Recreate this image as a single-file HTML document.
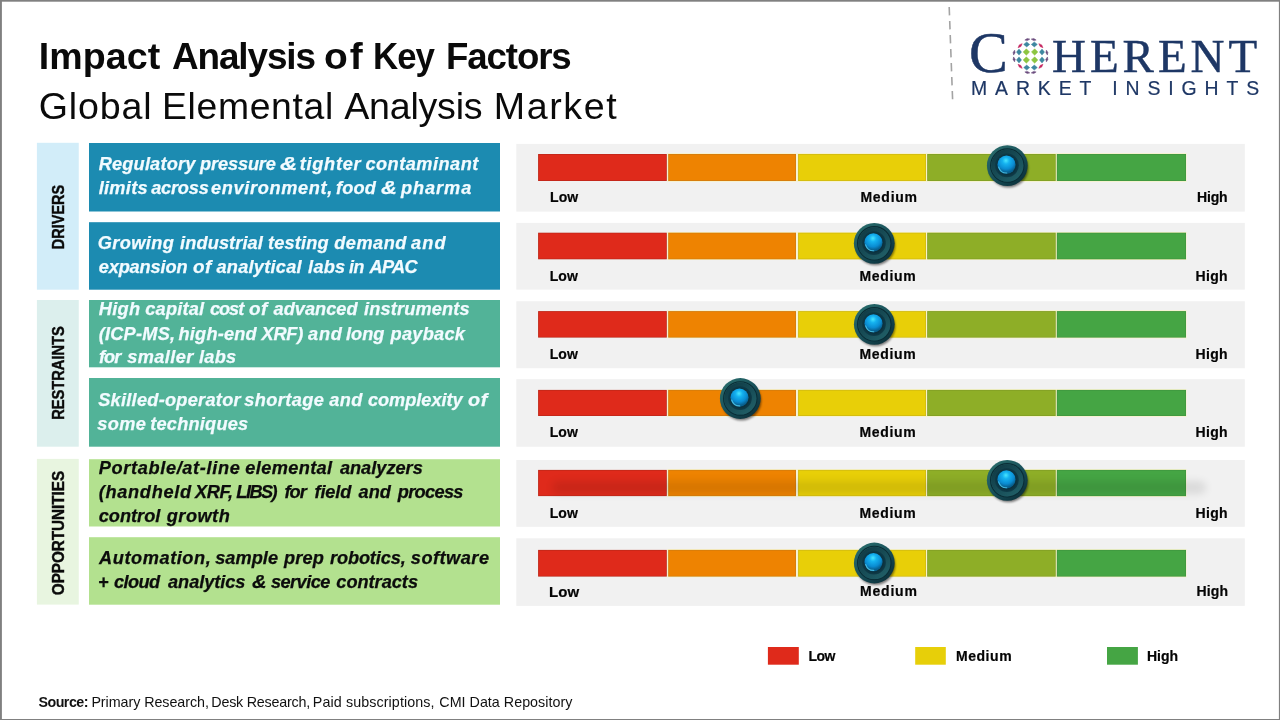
<!DOCTYPE html>
<html lang="en">
<head>
<meta charset="utf-8">
<title>Impact Analysis of Key Factors - Global Elemental Analysis Market</title>
<style>
html,body{margin:0;padding:0;}
body{width:1280px;height:720px;position:relative;overflow:hidden;background:#fff;font-family:"Liberation Sans",sans-serif;}
svg.bg{position:absolute;left:0;top:0;}
.t{position:absolute;white-space:nowrap;line-height:1;transform-origin:0 50%;}
.c{position:absolute;white-space:nowrap;font-weight:bold;color:#0a0a0a;line-height:1;-webkit-text-stroke:0.45px #0a0a0a;}
</style>
</head>
<body>
<svg class="bg" width="1280" height="720" viewBox="0 0 1280 720">
<defs>
<linearGradient id="kg1" x1="0.15" y1="0.1" x2="0.85" y2="0.9"><stop offset="0" stop-color="#286a6a"/><stop offset="0.5" stop-color="#18505a"/><stop offset="1" stop-color="#0c323c"/></linearGradient>
<linearGradient id="kg2" x1="0.15" y1="0.1" x2="0.85" y2="0.9"><stop offset="0" stop-color="#113c46"/><stop offset="0.55" stop-color="#184e58"/><stop offset="1" stop-color="#205e66"/></linearGradient>
<radialGradient id="kg3" cx="0.5" cy="0.5" r="0.5"><stop offset="0.6" stop-color="#082a36"/><stop offset="1" stop-color="#0f3c49"/></radialGradient>
<radialGradient id="kg4" cx="0.47" cy="0.3" r="0.62" fx="0.47" fy="0.27"><stop offset="0" stop-color="#48e6ff"/><stop offset="0.3" stop-color="#15b2f0"/><stop offset="0.72" stop-color="#0a8cd2"/><stop offset="1" stop-color="#08608f"/></radialGradient>
<filter id="ksh" x="-30%" y="-30%" width="170%" height="170%"><feGaussianBlur stdDeviation="1.3"/></filter>
<filter id="bsh" x="-5%" y="-150%" width="110%" height="400%"><feGaussianBlur stdDeviation="4"/></filter>
</defs>
<!-- category columns -->
<rect x="36.90" y="142.80" width="41.85" height="146.90" fill="#d2edf9"/>
<rect x="36.90" y="300.00" width="41.85" height="146.70" fill="#dcefed"/>
<rect x="36.90" y="458.90" width="41.85" height="145.70" fill="#e8f5e0"/>
<!-- factor boxes -->
<rect x="89.00" y="143.00" width="411.00" height="68.50" fill="#1c8bb1"/>
<rect x="89.00" y="222.20" width="411.00" height="67.50" fill="#1c8bb1"/>
<rect x="89.00" y="300.00" width="411.00" height="67.30" fill="#52b398"/>
<rect x="89.00" y="378.00" width="411.00" height="68.70" fill="#52b398"/>
<rect x="89.00" y="459.20" width="411.00" height="67.30" fill="#b3e18f"/>
<rect x="89.00" y="537.20" width="411.00" height="67.50" fill="#b3e18f"/>
<!-- gauge panels -->
<rect x="516.30" y="143.90" width="728.50" height="67.70" fill="#f1f1f1"/>
<rect x="538.10" y="154.00" width="128.70" height="27.00" fill="#bb281a"/>
<rect x="538.80" y="154.70" width="127.30" height="25.60" fill="#df2a1b"/>
<rect x="667.30" y="153.30" width="129.20" height="28.40" fill="#f8f3c4"/>
<rect x="668.20" y="154.00" width="127.80" height="27.00" fill="#cf7c10"/>
<rect x="668.90" y="154.70" width="126.40" height="25.60" fill="#ee8301"/>
<rect x="797.20" y="153.30" width="129.30" height="28.40" fill="#f8f3c4"/>
<rect x="798.10" y="154.00" width="127.90" height="27.00" fill="#cdb714"/>
<rect x="798.80" y="154.70" width="126.50" height="25.60" fill="#e8cf08"/>
<rect x="926.30" y="153.30" width="130.00" height="28.40" fill="#f8f3c4"/>
<rect x="927.20" y="154.00" width="128.60" height="27.00" fill="#7f9c25"/>
<rect x="927.90" y="154.70" width="127.20" height="25.60" fill="#8eae27"/>
<rect x="1055.90" y="153.30" width="130.60" height="28.40" fill="#f8f3c4"/>
<rect x="1056.80" y="154.00" width="129.20" height="27.00" fill="#3f953f"/>
<rect x="1057.50" y="154.70" width="127.80" height="25.60" fill="#45a544"/>
<rect x="516.30" y="222.90" width="728.50" height="66.70" fill="#f1f1f1"/>
<rect x="538.10" y="232.70" width="128.70" height="26.60" fill="#bb281a"/>
<rect x="538.80" y="233.40" width="127.30" height="25.20" fill="#df2a1b"/>
<rect x="667.30" y="232.00" width="129.20" height="28.00" fill="#f8f3c4"/>
<rect x="668.20" y="232.70" width="127.80" height="26.60" fill="#cf7c10"/>
<rect x="668.90" y="233.40" width="126.40" height="25.20" fill="#ee8301"/>
<rect x="797.20" y="232.00" width="129.30" height="28.00" fill="#f8f3c4"/>
<rect x="798.10" y="232.70" width="127.90" height="26.60" fill="#cdb714"/>
<rect x="798.80" y="233.40" width="126.50" height="25.20" fill="#e8cf08"/>
<rect x="926.30" y="232.00" width="130.00" height="28.00" fill="#f8f3c4"/>
<rect x="927.20" y="232.70" width="128.60" height="26.60" fill="#7f9c25"/>
<rect x="927.90" y="233.40" width="127.20" height="25.20" fill="#8eae27"/>
<rect x="1055.90" y="232.00" width="130.60" height="28.00" fill="#f8f3c4"/>
<rect x="1056.80" y="232.70" width="129.20" height="26.60" fill="#3f953f"/>
<rect x="1057.50" y="233.40" width="127.80" height="25.20" fill="#45a544"/>
<rect x="516.30" y="301.25" width="728.50" height="67.00" fill="#f1f1f1"/>
<rect x="538.10" y="311.10" width="128.70" height="26.50" fill="#bb281a"/>
<rect x="538.80" y="311.80" width="127.30" height="25.10" fill="#df2a1b"/>
<rect x="667.30" y="310.40" width="129.20" height="27.90" fill="#f8f3c4"/>
<rect x="668.20" y="311.10" width="127.80" height="26.50" fill="#cf7c10"/>
<rect x="668.90" y="311.80" width="126.40" height="25.10" fill="#ee8301"/>
<rect x="797.20" y="310.40" width="129.30" height="27.90" fill="#f8f3c4"/>
<rect x="798.10" y="311.10" width="127.90" height="26.50" fill="#cdb714"/>
<rect x="798.80" y="311.80" width="126.50" height="25.10" fill="#e8cf08"/>
<rect x="926.30" y="310.40" width="130.00" height="27.90" fill="#f8f3c4"/>
<rect x="927.20" y="311.10" width="128.60" height="26.50" fill="#7f9c25"/>
<rect x="927.90" y="311.80" width="127.20" height="25.10" fill="#8eae27"/>
<rect x="1055.90" y="310.40" width="130.60" height="27.90" fill="#f8f3c4"/>
<rect x="1056.80" y="311.10" width="129.20" height="26.50" fill="#3f953f"/>
<rect x="1057.50" y="311.80" width="127.80" height="25.10" fill="#45a544"/>
<rect x="516.30" y="379.20" width="728.50" height="67.55" fill="#f1f1f1"/>
<rect x="538.10" y="389.90" width="128.70" height="26.10" fill="#bb281a"/>
<rect x="538.80" y="390.60" width="127.30" height="24.70" fill="#df2a1b"/>
<rect x="667.30" y="389.20" width="129.20" height="27.50" fill="#f8f3c4"/>
<rect x="668.20" y="389.90" width="127.80" height="26.10" fill="#cf7c10"/>
<rect x="668.90" y="390.60" width="126.40" height="24.70" fill="#ee8301"/>
<rect x="797.20" y="389.20" width="129.30" height="27.50" fill="#f8f3c4"/>
<rect x="798.10" y="389.90" width="127.90" height="26.10" fill="#cdb714"/>
<rect x="798.80" y="390.60" width="126.50" height="24.70" fill="#e8cf08"/>
<rect x="926.30" y="389.20" width="130.00" height="27.50" fill="#f8f3c4"/>
<rect x="927.20" y="389.90" width="128.60" height="26.10" fill="#7f9c25"/>
<rect x="927.90" y="390.60" width="127.20" height="24.70" fill="#8eae27"/>
<rect x="1055.90" y="389.20" width="130.60" height="27.50" fill="#f8f3c4"/>
<rect x="1056.80" y="389.90" width="129.20" height="26.10" fill="#3f953f"/>
<rect x="1057.50" y="390.60" width="127.80" height="24.70" fill="#45a544"/>
<rect x="516.30" y="460.00" width="728.50" height="66.80" fill="#f1f1f1"/>
<rect x="538.10" y="469.90" width="128.70" height="26.20" fill="#bb281a"/>
<rect x="538.80" y="470.60" width="127.30" height="24.80" fill="#df2a1b"/>
<rect x="667.30" y="469.20" width="129.20" height="27.60" fill="#f8f3c4"/>
<rect x="668.20" y="469.90" width="127.80" height="26.20" fill="#cf7c10"/>
<rect x="668.90" y="470.60" width="126.40" height="24.80" fill="#ee8301"/>
<rect x="797.20" y="469.20" width="129.30" height="27.60" fill="#f8f3c4"/>
<rect x="798.10" y="469.90" width="127.90" height="26.20" fill="#cdb714"/>
<rect x="798.80" y="470.60" width="126.50" height="24.80" fill="#e8cf08"/>
<rect x="926.30" y="469.20" width="130.00" height="27.60" fill="#f8f3c4"/>
<rect x="927.20" y="469.90" width="128.60" height="26.20" fill="#7f9c25"/>
<rect x="927.90" y="470.60" width="127.20" height="24.80" fill="#8eae27"/>
<rect x="1055.90" y="469.20" width="130.60" height="27.60" fill="#f8f3c4"/>
<rect x="1056.80" y="469.90" width="129.20" height="26.20" fill="#3f953f"/>
<rect x="1057.50" y="470.60" width="127.80" height="24.80" fill="#45a544"/>
<rect x="552" y="481.5" width="654" height="12" rx="6" fill="#000" opacity="0.10" filter="url(#bsh)"/>
<rect x="516.30" y="538.30" width="728.50" height="67.60" fill="#f1f1f1"/>
<rect x="538.10" y="549.90" width="128.70" height="26.70" fill="#bb281a"/>
<rect x="538.80" y="550.60" width="127.30" height="25.30" fill="#df2a1b"/>
<rect x="667.30" y="549.20" width="129.20" height="28.10" fill="#f8f3c4"/>
<rect x="668.20" y="549.90" width="127.80" height="26.70" fill="#cf7c10"/>
<rect x="668.90" y="550.60" width="126.40" height="25.30" fill="#ee8301"/>
<rect x="797.20" y="549.20" width="129.30" height="28.10" fill="#f8f3c4"/>
<rect x="798.10" y="549.90" width="127.90" height="26.70" fill="#cdb714"/>
<rect x="798.80" y="550.60" width="126.50" height="25.30" fill="#e8cf08"/>
<rect x="926.30" y="549.20" width="130.00" height="28.10" fill="#f8f3c4"/>
<rect x="927.20" y="549.90" width="128.60" height="26.70" fill="#7f9c25"/>
<rect x="927.90" y="550.60" width="127.20" height="25.30" fill="#8eae27"/>
<rect x="1055.90" y="549.20" width="130.60" height="28.10" fill="#f8f3c4"/>
<rect x="1056.80" y="549.90" width="129.20" height="26.70" fill="#3f953f"/>
<rect x="1057.50" y="550.60" width="127.80" height="25.30" fill="#45a544"/>
<!-- knobs -->
<g transform="translate(1007.30 165.60)">
<circle cx="1.2" cy="2.2" r="19.8" fill="#000" opacity="0.5" filter="url(#ksh)"/>
<circle r="20.4" fill="url(#kg1)"/>
<circle r="16.7" fill="none" stroke="#0a2d36" stroke-width="1.1"/>
<circle r="16.1" fill="url(#kg2)"/>
<circle cx="-0.4" cy="-0.4" r="12" fill="url(#kg3)"/>
<circle cx="-0.8" cy="-0.9" r="9.1" fill="url(#kg4)"/>
<path d="M -8.6 1.5 A 8.3 8.3 0 0 0 -0.5 7.4" fill="none" stroke="#58d4f6" stroke-width="1.1" stroke-linecap="round" opacity="0.75"/>
</g>
<g transform="translate(874.25 243.30)">
<circle cx="1.2" cy="2.2" r="19.8" fill="#000" opacity="0.5" filter="url(#ksh)"/>
<circle r="20.4" fill="url(#kg1)"/>
<circle r="16.7" fill="none" stroke="#0a2d36" stroke-width="1.1"/>
<circle r="16.1" fill="url(#kg2)"/>
<circle cx="-0.4" cy="-0.4" r="12" fill="url(#kg3)"/>
<circle cx="-0.8" cy="-0.9" r="9.1" fill="url(#kg4)"/>
<path d="M -8.6 1.5 A 8.3 8.3 0 0 0 -0.5 7.4" fill="none" stroke="#58d4f6" stroke-width="1.1" stroke-linecap="round" opacity="0.75"/>
</g>
<g transform="translate(874.30 324.30)">
<circle cx="1.2" cy="2.2" r="19.8" fill="#000" opacity="0.5" filter="url(#ksh)"/>
<circle r="20.4" fill="url(#kg1)"/>
<circle r="16.7" fill="none" stroke="#0a2d36" stroke-width="1.1"/>
<circle r="16.1" fill="url(#kg2)"/>
<circle cx="-0.4" cy="-0.4" r="12" fill="url(#kg3)"/>
<circle cx="-0.8" cy="-0.9" r="9.1" fill="url(#kg4)"/>
<path d="M -8.6 1.5 A 8.3 8.3 0 0 0 -0.5 7.4" fill="none" stroke="#58d4f6" stroke-width="1.1" stroke-linecap="round" opacity="0.75"/>
</g>
<g transform="translate(740.30 398.50)">
<circle cx="1.2" cy="2.2" r="19.8" fill="#000" opacity="0.5" filter="url(#ksh)"/>
<circle r="20.4" fill="url(#kg1)"/>
<circle r="16.7" fill="none" stroke="#0a2d36" stroke-width="1.1"/>
<circle r="16.1" fill="url(#kg2)"/>
<circle cx="-0.4" cy="-0.4" r="12" fill="url(#kg3)"/>
<circle cx="-0.8" cy="-0.9" r="9.1" fill="url(#kg4)"/>
<path d="M -8.6 1.5 A 8.3 8.3 0 0 0 -0.5 7.4" fill="none" stroke="#58d4f6" stroke-width="1.1" stroke-linecap="round" opacity="0.75"/>
</g>
<g transform="translate(1007.25 480.30)">
<circle cx="1.2" cy="2.2" r="19.8" fill="#000" opacity="0.5" filter="url(#ksh)"/>
<circle r="20.4" fill="url(#kg1)"/>
<circle r="16.7" fill="none" stroke="#0a2d36" stroke-width="1.1"/>
<circle r="16.1" fill="url(#kg2)"/>
<circle cx="-0.4" cy="-0.4" r="12" fill="url(#kg3)"/>
<circle cx="-0.8" cy="-0.9" r="9.1" fill="url(#kg4)"/>
<path d="M -8.6 1.5 A 8.3 8.3 0 0 0 -0.5 7.4" fill="none" stroke="#58d4f6" stroke-width="1.1" stroke-linecap="round" opacity="0.75"/>
</g>
<g transform="translate(874.30 563.00)">
<circle cx="1.2" cy="2.2" r="19.8" fill="#000" opacity="0.5" filter="url(#ksh)"/>
<circle r="20.4" fill="url(#kg1)"/>
<circle r="16.7" fill="none" stroke="#0a2d36" stroke-width="1.1"/>
<circle r="16.1" fill="url(#kg2)"/>
<circle cx="-0.4" cy="-0.4" r="12" fill="url(#kg3)"/>
<circle cx="-0.8" cy="-0.9" r="9.1" fill="url(#kg4)"/>
<path d="M -8.6 1.5 A 8.3 8.3 0 0 0 -0.5 7.4" fill="none" stroke="#58d4f6" stroke-width="1.1" stroke-linecap="round" opacity="0.75"/>
</g>
<!-- legend -->
<rect x="767.90" y="647.00" width="30.90" height="17.70" fill="#df2a1b"/>
<rect x="915.20" y="647.00" width="30.60" height="17.70" fill="#e7cf09"/>
<rect x="1107.00" y="647.00" width="30.90" height="17.70" fill="#45a544"/>
<!-- frame -->
<rect x="0.00" y="0.00" width="1280.00" height="1.70" fill="#808080"/>
<rect x="0.00" y="0.00" width="1.90" height="720.00" fill="#808080"/>
<rect x="1278.90" y="0.00" width="1.10" height="720.00" fill="#808080"/>
<rect x="0.00" y="719.00" width="1280.00" height="1.00" fill="#808080"/>
<!-- logo: divider + globe -->
<line x1="949.2" y1="7" x2="952.6" y2="99.5" stroke="#a3a3a3" stroke-width="1.6" stroke-dasharray="8.4 5.6"/>
<polygon points="0.00,-3.20 3.20,0.00 0.00,3.20 -3.20,0.00" fill="#8cc541" stroke="#8cc541" stroke-width="0.5" stroke-linejoin="round" transform="translate(1026.35 52.00) rotate(0.0)"/>
<polygon points="0.00,-3.20 3.20,0.00 0.00,3.20 -3.20,0.00" fill="#8cc541" stroke="#8cc541" stroke-width="0.5" stroke-linejoin="round" transform="translate(1026.35 60.00) rotate(0.0)"/>
<polygon points="0.00,-3.20 3.20,0.00 0.00,3.20 -3.20,0.00" fill="#8cc541" stroke="#8cc541" stroke-width="0.5" stroke-linejoin="round" transform="translate(1034.65 52.00) rotate(0.0)"/>
<polygon points="0.00,-3.20 3.20,0.00 0.00,3.20 -3.20,0.00" fill="#8cc541" stroke="#8cc541" stroke-width="0.5" stroke-linejoin="round" transform="translate(1034.65 60.00) rotate(0.0)"/>
<polygon points="0.00,-2.50 3.00,0.00 0.00,2.50 -3.00,0.00" fill="#3e87a0" stroke="#3e87a0" stroke-width="0.5" stroke-linejoin="round" transform="translate(1026.70 44.40) rotate(0.0)"/>
<polygon points="0.00,-2.50 3.00,0.00 0.00,2.50 -3.00,0.00" fill="#3e87a0" stroke="#3e87a0" stroke-width="0.5" stroke-linejoin="round" transform="translate(1026.70 67.60) rotate(0.0)"/>
<polygon points="0.00,-2.50 3.00,0.00 0.00,2.50 -3.00,0.00" fill="#3e87a0" stroke="#3e87a0" stroke-width="0.5" stroke-linejoin="round" transform="translate(1034.30 44.40) rotate(0.0)"/>
<polygon points="0.00,-2.50 3.00,0.00 0.00,2.50 -3.00,0.00" fill="#3e87a0" stroke="#3e87a0" stroke-width="0.5" stroke-linejoin="round" transform="translate(1034.30 67.60) rotate(0.0)"/>
<polygon points="0.00,-3.00 2.50,0.00 0.00,3.00 -2.50,0.00" fill="#3e87a0" stroke="#3e87a0" stroke-width="0.5" stroke-linejoin="round" transform="translate(1019.00 52.10) rotate(0.0)"/>
<polygon points="0.00,-3.00 2.50,0.00 0.00,3.00 -2.50,0.00" fill="#3e87a0" stroke="#3e87a0" stroke-width="0.5" stroke-linejoin="round" transform="translate(1019.00 59.90) rotate(0.0)"/>
<polygon points="0.00,-3.00 2.50,0.00 0.00,3.00 -2.50,0.00" fill="#3e87a0" stroke="#3e87a0" stroke-width="0.5" stroke-linejoin="round" transform="translate(1042.00 52.10) rotate(0.0)"/>
<polygon points="0.00,-3.00 2.50,0.00 0.00,3.00 -2.50,0.00" fill="#3e87a0" stroke="#3e87a0" stroke-width="0.5" stroke-linejoin="round" transform="translate(1042.00 59.90) rotate(0.0)"/>
<polygon points="0.00,-1.15 2.90,0.00 0.00,1.15 -2.90,0.00" fill="#c5265f" stroke="#c5265f" stroke-width="0.5" stroke-linejoin="round" transform="translate(1020.10 45.70) rotate(-45.0)"/>
<polygon points="0.00,-1.15 2.90,0.00 0.00,1.15 -2.90,0.00" fill="#c5265f" stroke="#c5265f" stroke-width="0.5" stroke-linejoin="round" transform="translate(1020.10 66.30) rotate(225.0)"/>
<polygon points="0.00,-1.15 2.90,0.00 0.00,1.15 -2.90,0.00" fill="#c5265f" stroke="#c5265f" stroke-width="0.5" stroke-linejoin="round" transform="translate(1040.90 45.70) rotate(45.0)"/>
<polygon points="0.00,-1.15 2.90,0.00 0.00,1.15 -2.90,0.00" fill="#c5265f" stroke="#c5265f" stroke-width="0.5" stroke-linejoin="round" transform="translate(1040.90 66.30) rotate(135.0)"/>
<polygon points="0.00,-1.00 2.50,0.00 0.00,1.00 -2.50,0.00" fill="#6a4b7d" stroke="#6a4b7d" stroke-width="0.5" stroke-linejoin="round" transform="translate(1027.30 39.60) rotate(-11.0)"/>
<polygon points="0.00,-1.00 2.50,0.00 0.00,1.00 -2.50,0.00" fill="#6a4b7d" stroke="#6a4b7d" stroke-width="0.5" stroke-linejoin="round" transform="translate(1014.10 52.60) rotate(-78.3)"/>
<polygon points="0.00,-1.00 2.50,0.00 0.00,1.00 -2.50,0.00" fill="#6a4b7d" stroke="#6a4b7d" stroke-width="0.5" stroke-linejoin="round" transform="translate(1027.30 72.40) rotate(191.0)"/>
<polygon points="0.00,-1.00 2.50,0.00 0.00,1.00 -2.50,0.00" fill="#6a4b7d" stroke="#6a4b7d" stroke-width="0.5" stroke-linejoin="round" transform="translate(1014.10 59.40) rotate(258.3)"/>
<polygon points="0.00,-1.00 2.50,0.00 0.00,1.00 -2.50,0.00" fill="#6a4b7d" stroke="#6a4b7d" stroke-width="0.5" stroke-linejoin="round" transform="translate(1033.70 39.60) rotate(11.0)"/>
<polygon points="0.00,-1.00 2.50,0.00 0.00,1.00 -2.50,0.00" fill="#6a4b7d" stroke="#6a4b7d" stroke-width="0.5" stroke-linejoin="round" transform="translate(1046.90 52.60) rotate(78.3)"/>
<polygon points="0.00,-1.00 2.50,0.00 0.00,1.00 -2.50,0.00" fill="#6a4b7d" stroke="#6a4b7d" stroke-width="0.5" stroke-linejoin="round" transform="translate(1033.70 72.40) rotate(169.0)"/>
<polygon points="0.00,-1.00 2.50,0.00 0.00,1.00 -2.50,0.00" fill="#6a4b7d" stroke="#6a4b7d" stroke-width="0.5" stroke-linejoin="round" transform="translate(1046.90 59.40) rotate(101.7)"/>

</svg>

<span class="t" style="left:38.75px;top:37.77px;font-size:37.60px;letter-spacing:0.099px;font-weight:bold;color:#0a0a0a;">Impact</span>
<span class="t" style="left:171.50px;top:37.77px;font-size:37.60px;letter-spacing:-1.128px;transform:scaleX(0.9813);font-weight:bold;color:#0a0a0a;">Analysis</span>
<span class="t" style="left:324.20px;top:37.77px;font-size:37.60px;letter-spacing:1.942px;transform:scaleX(1.0337);font-weight:bold;color:#0a0a0a;">of</span>
<span class="t" style="left:373.00px;top:37.77px;font-size:37.60px;letter-spacing:-1.128px;transform:scaleX(0.9282);font-weight:bold;color:#0a0a0a;">Key</span>
<span class="t" style="left:445.90px;top:37.77px;font-size:37.60px;letter-spacing:-1.128px;transform:scaleX(0.9744);font-weight:bold;color:#0a0a0a;">Factors</span>
<span class="t" style="left:38.75px;top:88.17px;font-size:37.60px;letter-spacing:0.855px;color:#0a0a0a;">Global</span>
<span class="t" style="left:161.60px;top:88.17px;font-size:37.60px;letter-spacing:0.664px;transform:scaleX(0.9934);color:#0a0a0a;">Elemental</span>
<span class="t" style="left:344.20px;top:88.17px;font-size:37.60px;letter-spacing:-0.219px;color:#0a0a0a;">Analysis</span>
<span class="t" style="left:493.80px;top:88.17px;font-size:37.60px;letter-spacing:1.602px;color:#0a0a0a;">Market</span>
<span class="t" style="left:98.70px;top:155.19px;font-size:18.20px;letter-spacing:0.180px;font-weight:bold;font-style:italic;color:#f2fbff;-webkit-text-stroke:0.25px #f2fbff;">Regulatory</span>
<span class="t" style="left:200.00px;top:155.19px;font-size:18.20px;letter-spacing:-0.129px;font-weight:bold;font-style:italic;color:#f2fbff;-webkit-text-stroke:0.25px #f2fbff;">pressure</span>
<span class="t" style="left:280.40px;top:155.19px;font-size:18.20px;letter-spacing:0.000px;transform:scaleX(1.3127);font-weight:bold;font-style:italic;color:#f2fbff;-webkit-text-stroke:0.25px #f2fbff;">&amp;</span>
<span class="t" style="left:299.80px;top:155.19px;font-size:18.20px;letter-spacing:0.690px;font-weight:bold;font-style:italic;color:#f2fbff;-webkit-text-stroke:0.25px #f2fbff;">tighter</span>
<span class="t" style="left:365.40px;top:155.19px;font-size:18.20px;letter-spacing:0.486px;font-weight:bold;font-style:italic;color:#f2fbff;-webkit-text-stroke:0.25px #f2fbff;">contaminant</span>
<span class="t" style="left:98.70px;top:179.39px;font-size:18.20px;letter-spacing:0.288px;font-weight:bold;font-style:italic;color:#f2fbff;-webkit-text-stroke:0.25px #f2fbff;">limits</span>
<span class="t" style="left:151.20px;top:179.39px;font-size:18.20px;letter-spacing:-0.216px;font-weight:bold;font-style:italic;color:#f2fbff;-webkit-text-stroke:0.25px #f2fbff;">across</span>
<span class="t" style="left:211.10px;top:179.39px;font-size:18.20px;letter-spacing:0.638px;font-weight:bold;font-style:italic;color:#f2fbff;-webkit-text-stroke:0.25px #f2fbff;">environment,</span>
<span class="t" style="left:336.10px;top:179.39px;font-size:18.20px;letter-spacing:0.120px;font-weight:bold;font-style:italic;color:#f2fbff;-webkit-text-stroke:0.25px #f2fbff;">food</span>
<span class="t" style="left:380.60px;top:179.39px;font-size:18.20px;letter-spacing:0.000px;transform:scaleX(1.2093);font-weight:bold;font-style:italic;color:#f2fbff;-webkit-text-stroke:0.25px #f2fbff;">&amp;</span>
<span class="t" style="left:400.90px;top:179.39px;font-size:18.20px;letter-spacing:0.936px;font-weight:bold;font-style:italic;color:#f2fbff;-webkit-text-stroke:0.25px #f2fbff;">pharma</span>
<span class="t" style="left:97.70px;top:233.89px;font-size:18.20px;letter-spacing:0.420px;font-weight:bold;font-style:italic;color:#f2fbff;-webkit-text-stroke:0.25px #f2fbff;">Growing</span>
<span class="t" style="left:180.10px;top:233.89px;font-size:18.20px;letter-spacing:0.100px;font-weight:bold;font-style:italic;color:#f2fbff;-webkit-text-stroke:0.25px #f2fbff;">industrial</span>
<span class="t" style="left:268.00px;top:233.89px;font-size:18.20px;letter-spacing:0.150px;font-weight:bold;font-style:italic;color:#f2fbff;-webkit-text-stroke:0.25px #f2fbff;">testing</span>
<span class="t" style="left:334.20px;top:233.89px;font-size:18.20px;letter-spacing:0.504px;font-weight:bold;font-style:italic;color:#f2fbff;-webkit-text-stroke:0.25px #f2fbff;">demand</span>
<span class="t" style="left:410.90px;top:233.89px;font-size:18.20px;letter-spacing:1.170px;font-weight:bold;font-style:italic;color:#f2fbff;-webkit-text-stroke:0.25px #f2fbff;">and</span>
<span class="t" style="left:98.70px;top:258.49px;font-size:18.20px;letter-spacing:-0.135px;font-weight:bold;font-style:italic;color:#f2fbff;-webkit-text-stroke:0.25px #f2fbff;">expansion</span>
<span class="t" style="left:192.80px;top:258.49px;font-size:18.20px;letter-spacing:0.546px;transform:scaleX(1.0390);font-weight:bold;font-style:italic;color:#f2fbff;-webkit-text-stroke:0.25px #f2fbff;">of</span>
<span class="t" style="left:216.40px;top:258.49px;font-size:18.20px;letter-spacing:0.260px;font-weight:bold;font-style:italic;color:#f2fbff;-webkit-text-stroke:0.25px #f2fbff;">analytical</span>
<span class="t" style="left:308.10px;top:258.49px;font-size:18.20px;letter-spacing:0.240px;font-weight:bold;font-style:italic;color:#f2fbff;-webkit-text-stroke:0.25px #f2fbff;">labs</span>
<span class="t" style="left:349.40px;top:258.49px;font-size:18.20px;letter-spacing:-0.546px;transform:scaleX(0.9787);font-weight:bold;font-style:italic;color:#f2fbff;-webkit-text-stroke:0.25px #f2fbff;">in</span>
<span class="t" style="left:369.60px;top:258.49px;font-size:18.20px;letter-spacing:-0.720px;font-weight:bold;font-style:italic;color:#f2fbff;-webkit-text-stroke:0.25px #f2fbff;">APAC</span>
<span class="t" style="left:98.70px;top:299.89px;font-size:18.20px;letter-spacing:0.360px;font-weight:bold;font-style:italic;color:#f2fbff;-webkit-text-stroke:0.25px #f2fbff;">High</span>
<span class="t" style="left:145.30px;top:299.89px;font-size:18.20px;letter-spacing:0.180px;font-weight:bold;font-style:italic;color:#f2fbff;-webkit-text-stroke:0.25px #f2fbff;">capital</span>
<span class="t" style="left:209.90px;top:299.89px;font-size:18.20px;letter-spacing:-1.020px;font-weight:bold;font-style:italic;color:#f2fbff;-webkit-text-stroke:0.25px #f2fbff;">cost</span>
<span class="t" style="left:249.00px;top:299.89px;font-size:18.20px;letter-spacing:0.546px;transform:scaleX(1.0390);font-weight:bold;font-style:italic;color:#f2fbff;-webkit-text-stroke:0.25px #f2fbff;">of</span>
<span class="t" style="left:273.50px;top:299.89px;font-size:18.20px;letter-spacing:0.026px;font-weight:bold;font-style:italic;color:#f2fbff;-webkit-text-stroke:0.25px #f2fbff;">advanced</span>
<span class="t" style="left:364.10px;top:299.89px;font-size:18.20px;letter-spacing:0.144px;font-weight:bold;font-style:italic;color:#f2fbff;-webkit-text-stroke:0.25px #f2fbff;">instruments</span>
<span class="t" style="left:98.70px;top:324.59px;font-size:18.20px;letter-spacing:0.231px;font-weight:bold;font-style:italic;color:#f2fbff;-webkit-text-stroke:0.25px #f2fbff;">(ICP-MS,</span>
<span class="t" style="left:178.50px;top:324.59px;font-size:18.20px;letter-spacing:0.206px;font-weight:bold;font-style:italic;color:#f2fbff;-webkit-text-stroke:0.25px #f2fbff;">high-end</span>
<span class="t" style="left:261.50px;top:324.59px;font-size:18.20px;letter-spacing:-0.240px;font-weight:bold;font-style:italic;color:#f2fbff;-webkit-text-stroke:0.25px #f2fbff;">XRF)</span>
<span class="t" style="left:308.00px;top:324.59px;font-size:18.20px;letter-spacing:0.810px;font-weight:bold;font-style:italic;color:#f2fbff;-webkit-text-stroke:0.25px #f2fbff;">and</span>
<span class="t" style="left:346.00px;top:324.59px;font-size:18.20px;letter-spacing:0.000px;font-weight:bold;font-style:italic;color:#f2fbff;-webkit-text-stroke:0.25px #f2fbff;">long</span>
<span class="t" style="left:390.50px;top:324.59px;font-size:18.20px;letter-spacing:0.270px;font-weight:bold;font-style:italic;color:#f2fbff;-webkit-text-stroke:0.25px #f2fbff;">payback</span>
<span class="t" style="left:99.10px;top:347.99px;font-size:18.20px;letter-spacing:-1.035px;font-weight:bold;font-style:italic;color:#f2fbff;-webkit-text-stroke:0.25px #f2fbff;">for</span>
<span class="t" style="left:127.20px;top:347.99px;font-size:18.20px;letter-spacing:0.420px;font-weight:bold;font-style:italic;color:#f2fbff;-webkit-text-stroke:0.25px #f2fbff;">smaller</span>
<span class="t" style="left:199.00px;top:347.99px;font-size:18.20px;letter-spacing:0.240px;font-weight:bold;font-style:italic;color:#f2fbff;-webkit-text-stroke:0.25px #f2fbff;">labs</span>
<span class="t" style="left:98.20px;top:391.09px;font-size:18.20px;letter-spacing:0.264px;font-weight:bold;font-style:italic;color:#f2fbff;-webkit-text-stroke:0.25px #f2fbff;">Skilled-operator</span>
<span class="t" style="left:244.30px;top:391.09px;font-size:18.20px;letter-spacing:0.411px;font-weight:bold;font-style:italic;color:#f2fbff;-webkit-text-stroke:0.25px #f2fbff;">shortage</span>
<span class="t" style="left:329.20px;top:391.09px;font-size:18.20px;letter-spacing:0.450px;font-weight:bold;font-style:italic;color:#f2fbff;-webkit-text-stroke:0.25px #f2fbff;">and</span>
<span class="t" style="left:367.90px;top:391.09px;font-size:18.20px;letter-spacing:-0.020px;font-weight:bold;font-style:italic;color:#f2fbff;-webkit-text-stroke:0.25px #f2fbff;">complexity</span>
<span class="t" style="left:467.60px;top:391.09px;font-size:18.20px;letter-spacing:0.546px;transform:scaleX(1.0892);font-weight:bold;font-style:italic;color:#f2fbff;-webkit-text-stroke:0.25px #f2fbff;">of</span>
<span class="t" style="left:97.20px;top:414.79px;font-size:18.20px;letter-spacing:0.420px;font-weight:bold;font-style:italic;color:#f2fbff;-webkit-text-stroke:0.25px #f2fbff;">some</span>
<span class="t" style="left:150.20px;top:414.79px;font-size:18.20px;letter-spacing:0.220px;font-weight:bold;font-style:italic;color:#f2fbff;-webkit-text-stroke:0.25px #f2fbff;">techniques</span>
<span class="t" style="left:98.70px;top:459.19px;font-size:18.20px;letter-spacing:0.648px;font-weight:bold;font-style:italic;color:#0c0c0c;-webkit-text-stroke:0.25px #0c0c0c;">Portable/at-line</span>
<span class="t" style="left:245.30px;top:459.19px;font-size:18.20px;letter-spacing:0.360px;font-weight:bold;font-style:italic;color:#0c0c0c;-webkit-text-stroke:0.25px #0c0c0c;">elemental</span>
<span class="t" style="left:339.90px;top:459.19px;font-size:18.20px;letter-spacing:0.000px;font-weight:bold;font-style:italic;color:#0c0c0c;-webkit-text-stroke:0.25px #0c0c0c;">analyzers</span>
<span class="t" style="left:98.70px;top:483.19px;font-size:18.20px;letter-spacing:0.698px;font-weight:bold;font-style:italic;color:#0c0c0c;-webkit-text-stroke:0.25px #0c0c0c;">(handheld</span>
<span class="t" style="left:195.10px;top:483.19px;font-size:18.20px;letter-spacing:-0.480px;font-weight:bold;font-style:italic;color:#0c0c0c;-webkit-text-stroke:0.25px #0c0c0c;">XRF,</span>
<span class="t" style="left:236.30px;top:483.19px;font-size:18.20px;letter-spacing:-1.530px;font-weight:bold;font-style:italic;color:#0c0c0c;-webkit-text-stroke:0.25px #0c0c0c;">LIBS)</span>
<span class="t" style="left:284.40px;top:483.19px;font-size:18.20px;letter-spacing:-0.900px;font-weight:bold;font-style:italic;color:#0c0c0c;-webkit-text-stroke:0.25px #0c0c0c;">for</span>
<span class="t" style="left:314.60px;top:483.19px;font-size:18.20px;letter-spacing:-0.180px;font-weight:bold;font-style:italic;color:#0c0c0c;-webkit-text-stroke:0.25px #0c0c0c;">field</span>
<span class="t" style="left:358.60px;top:483.19px;font-size:18.20px;letter-spacing:0.000px;font-weight:bold;font-style:italic;color:#0c0c0c;-webkit-text-stroke:0.25px #0c0c0c;">and</span>
<span class="t" style="left:397.70px;top:483.19px;font-size:18.20px;letter-spacing:-0.660px;font-weight:bold;font-style:italic;color:#0c0c0c;-webkit-text-stroke:0.25px #0c0c0c;">process</span>
<span class="t" style="left:98.70px;top:506.79px;font-size:18.20px;letter-spacing:0.000px;font-weight:bold;font-style:italic;color:#0c0c0c;-webkit-text-stroke:0.25px #0c0c0c;">control</span>
<span class="t" style="left:166.80px;top:506.79px;font-size:18.20px;letter-spacing:0.468px;font-weight:bold;font-style:italic;color:#0c0c0c;-webkit-text-stroke:0.25px #0c0c0c;">growth</span>
<span class="t" style="left:99.10px;top:549.39px;font-size:18.20px;letter-spacing:0.558px;font-weight:bold;font-style:italic;color:#0c0c0c;-webkit-text-stroke:0.25px #0c0c0c;">Automation,</span>
<span class="t" style="left:215.20px;top:549.39px;font-size:18.20px;letter-spacing:0.036px;font-weight:bold;font-style:italic;color:#0c0c0c;-webkit-text-stroke:0.25px #0c0c0c;">sample</span>
<span class="t" style="left:284.00px;top:549.39px;font-size:18.20px;letter-spacing:0.120px;font-weight:bold;font-style:italic;color:#0c0c0c;-webkit-text-stroke:0.25px #0c0c0c;">prep</span>
<span class="t" style="left:330.00px;top:549.39px;font-size:18.20px;letter-spacing:-0.135px;font-weight:bold;font-style:italic;color:#0c0c0c;-webkit-text-stroke:0.25px #0c0c0c;">robotics,</span>
<span class="t" style="left:410.80px;top:549.39px;font-size:18.20px;letter-spacing:0.489px;font-weight:bold;font-style:italic;color:#0c0c0c;-webkit-text-stroke:0.25px #0c0c0c;">software</span>
<span class="t" style="left:98.20px;top:573.09px;font-size:18.20px;letter-spacing:0.000px;transform:scaleX(0.9930);font-weight:bold;font-style:italic;color:#0c0c0c;-webkit-text-stroke:0.25px #0c0c0c;">+</span>
<span class="t" style="left:113.90px;top:573.09px;font-size:18.20px;letter-spacing:-0.585px;font-weight:bold;font-style:italic;color:#0c0c0c;-webkit-text-stroke:0.25px #0c0c0c;">cloud</span>
<span class="t" style="left:168.00px;top:573.09px;font-size:18.20px;letter-spacing:-0.045px;font-weight:bold;font-style:italic;color:#0c0c0c;-webkit-text-stroke:0.25px #0c0c0c;">analytics</span>
<span class="t" style="left:251.90px;top:573.09px;font-size:18.20px;letter-spacing:0.000px;transform:scaleX(1.1085);font-weight:bold;font-style:italic;color:#0c0c0c;-webkit-text-stroke:0.25px #0c0c0c;">&amp;</span>
<span class="t" style="left:271.00px;top:573.09px;font-size:18.20px;letter-spacing:-0.570px;font-weight:bold;font-style:italic;color:#0c0c0c;-webkit-text-stroke:0.25px #0c0c0c;">service</span>
<span class="t" style="left:336.30px;top:573.09px;font-size:18.20px;letter-spacing:-0.022px;font-weight:bold;font-style:italic;color:#0c0c0c;-webkit-text-stroke:0.25px #0c0c0c;">contracts</span>
<span class="t" style="left:550.10px;top:190.05px;font-size:14.00px;letter-spacing:0.000px;font-weight:bold;color:#050505;-webkit-text-stroke:0.2px #050505;">Low</span>
<span class="t" style="left:860.40px;top:190.05px;font-size:14.00px;letter-spacing:0.756px;font-weight:bold;color:#050505;-webkit-text-stroke:0.2px #050505;">Medium</span>
<span class="t" style="left:1196.90px;top:190.05px;font-size:14.00px;letter-spacing:-0.120px;font-weight:bold;color:#050505;-webkit-text-stroke:0.2px #050505;">High</span>
<span class="t" style="left:549.80px;top:269.15px;font-size:14.00px;letter-spacing:0.000px;font-weight:bold;color:#050505;-webkit-text-stroke:0.2px #050505;">Low</span>
<span class="t" style="left:859.40px;top:269.15px;font-size:14.00px;letter-spacing:0.684px;font-weight:bold;color:#050505;-webkit-text-stroke:0.2px #050505;">Medium</span>
<span class="t" style="left:1195.60px;top:269.15px;font-size:14.00px;letter-spacing:0.300px;font-weight:bold;color:#050505;-webkit-text-stroke:0.2px #050505;">High</span>
<span class="t" style="left:549.80px;top:346.90px;font-size:14.00px;letter-spacing:0.000px;font-weight:bold;color:#050505;-webkit-text-stroke:0.2px #050505;">Low</span>
<span class="t" style="left:859.40px;top:346.90px;font-size:14.00px;letter-spacing:0.684px;font-weight:bold;color:#050505;-webkit-text-stroke:0.2px #050505;">Medium</span>
<span class="t" style="left:1195.60px;top:346.90px;font-size:14.00px;letter-spacing:0.300px;font-weight:bold;color:#050505;-webkit-text-stroke:0.2px #050505;">High</span>
<span class="t" style="left:549.80px;top:425.15px;font-size:14.00px;letter-spacing:0.000px;font-weight:bold;color:#050505;-webkit-text-stroke:0.2px #050505;">Low</span>
<span class="t" style="left:859.40px;top:425.15px;font-size:14.00px;letter-spacing:0.684px;font-weight:bold;color:#050505;-webkit-text-stroke:0.2px #050505;">Medium</span>
<span class="t" style="left:1195.60px;top:425.15px;font-size:14.00px;letter-spacing:0.300px;font-weight:bold;color:#050505;-webkit-text-stroke:0.2px #050505;">High</span>
<span class="t" style="left:549.80px;top:505.65px;font-size:14.00px;letter-spacing:0.000px;font-weight:bold;color:#050505;-webkit-text-stroke:0.2px #050505;">Low</span>
<span class="t" style="left:859.40px;top:505.65px;font-size:14.00px;letter-spacing:0.684px;font-weight:bold;color:#050505;-webkit-text-stroke:0.2px #050505;">Medium</span>
<span class="t" style="left:1195.60px;top:505.65px;font-size:14.00px;letter-spacing:0.300px;font-weight:bold;color:#050505;-webkit-text-stroke:0.2px #050505;">High</span>
<span class="t" style="left:549.00px;top:583.90px;font-size:15.00px;letter-spacing:0.090px;font-weight:bold;color:#050505;-webkit-text-stroke:0.2px #050505;">Low</span>
<span class="t" style="left:860.00px;top:584.45px;font-size:14.00px;letter-spacing:0.792px;font-weight:bold;color:#050505;-webkit-text-stroke:0.2px #050505;">Medium</span>
<span class="t" style="left:1196.60px;top:584.45px;font-size:14.00px;letter-spacing:0.120px;font-weight:bold;color:#050505;-webkit-text-stroke:0.2px #050505;">High</span>
<span class="t" style="left:808.50px;top:648.75px;font-size:14.00px;letter-spacing:-0.540px;font-weight:bold;color:#050505;-webkit-text-stroke:0.2px #050505;">Low</span>
<span class="t" style="left:955.90px;top:648.75px;font-size:14.00px;letter-spacing:0.576px;font-weight:bold;color:#050505;-webkit-text-stroke:0.2px #050505;">Medium</span>
<span class="t" style="left:1147.00px;top:648.75px;font-size:14.00px;letter-spacing:0.000px;font-weight:bold;color:#050505;-webkit-text-stroke:0.2px #050505;">High</span>
<span class="t" style="left:969.00px;top:25.07px;font-size:56.50px;font-family:'Liberation Serif', serif;letter-spacing:0.000px;transform:scaleX(1.0303);color:#1e3765;-webkit-text-stroke:0.45px #1e3765;">C</span>
<span class="t" style="left:1052.00px;top:32.51px;font-size:47.00px;font-family:'Liberation Serif', serif;letter-spacing:3.960px;color:#1e3765;-webkit-text-stroke:0.45px #1e3765;">HERENT</span>
<span class="t" style="left:971.00px;top:78.88px;font-size:19.40px;letter-spacing:7.907px;color:#1e3765;-webkit-text-stroke:0.2px #1e3765;">MARKET INSIGHTS</span>
<span class="t" style="left:38.40px;top:694.80px;font-size:14.30px;letter-spacing:-0.510px;font-weight:bold;color:#111;">Source:</span>
<span class="t" style="left:91.40px;top:694.80px;font-size:14.30px;letter-spacing:-0.056px;color:#111;">Primary Research,</span>
<span class="t" style="left:211.30px;top:694.80px;font-size:14.30px;letter-spacing:-0.222px;color:#111;">Desk Research,</span>
<span class="t" style="left:312.80px;top:694.80px;font-size:14.30px;letter-spacing:0.100px;color:#111;">Paid subscriptions,</span>
<span class="t" style="left:439.30px;top:694.80px;font-size:14.30px;letter-spacing:0.020px;color:#111;">CMI Data Repository</span>
<span class="c" style="left:57.70px;top:216.55px;font-size:17.00px;transform:translate(-50%,-50%) rotate(-90deg) scale(0.8534,1);">DRIVERS</span>
<span class="c" style="left:57.60px;top:373.30px;font-size:17.00px;transform:translate(-50%,-50%) rotate(-90deg) scale(0.8608,1);">RESTRAINTS</span>
<span class="c" style="left:57.80px;top:533.30px;font-size:17.00px;transform:translate(-50%,-50%) rotate(-90deg) scale(0.8954,1);">OPPORTUNITIES</span>
</body>
</html>
